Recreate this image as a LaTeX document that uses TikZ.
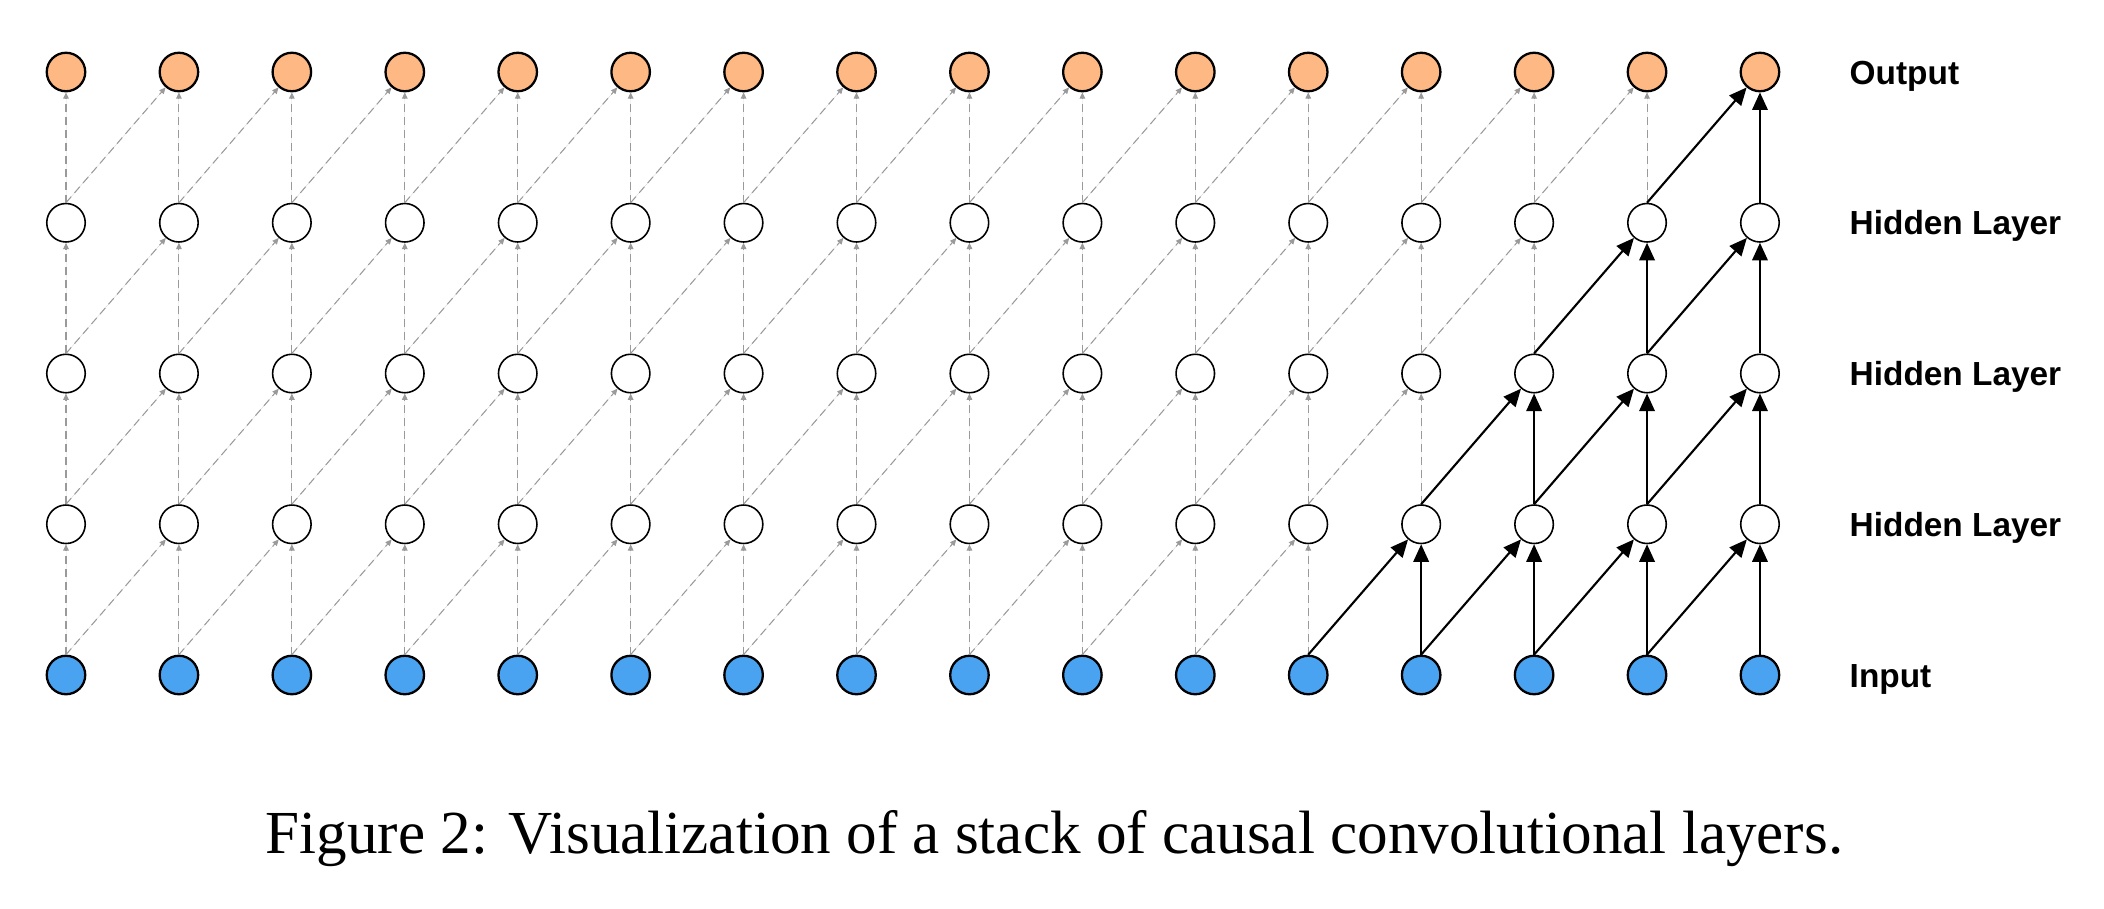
\documentclass[tikz,border=0pt]{standalone}
\usepackage{fontspec}
\setmainfont{Liberation Serif}
\newfontfamily\labelfont{Liberation Sans}
\usepackage{xcolor}
\usetikzlibrary{arrows.meta}
\definecolor{inputblue}{HTML}{4AA3F0}
\definecolor{outputorange}{HTML}{FDB883}
\definecolor{edgegray}{HTML}{9A9A9A}

\begin{document}
\begin{tikzpicture}[x=1cm,y=1cm]
    \tikzstyle{unit}=[circle,draw=black,line width=0.45pt,fill=white,minimum size=0.385cm,inner sep=0pt]
    \tikzstyle{inunit}=[unit,fill=inputblue,line width=0.65pt]
    \tikzstyle{outunit}=[unit,fill=outputorange,line width=0.65pt]
    \tikzstyle{layername}=[anchor=base west,inner sep=0pt,font=\labelfont\bfseries\fontsize{9.5}{11}\selectfont]
    \tikzstyle{faint}=[-{Triangle[length=1.8pt,width=1.6pt]},draw=edgegray,fill=edgegray,line width=0.3pt,dash pattern=on 2.3pt off 1.4pt]
    \tikzstyle{live}=[-{Triangle[length=5pt,width=4.4pt]},draw=black,line width=0.6pt]
    \useasboundingbox (0,0) rectangle (21.04,9.08);
    % units: layer 0 is the input, layer 4 the output
    \foreach \col in {1,...,16} {
      \node[inunit] (n0-\col) at ({0.66+1.1293*(\col-1)},2.33) {};
      \foreach \lay in {1,2,3}
        \node[unit] (n\lay-\col) at ({0.66+1.1293*(\col-1)},{2.33+1.5075*\lay}) {};
      \node[outunit] (n4-\col) at ({0.66+1.1293*(\col-1)},8.36) {};
    }
    % connections, solid inside the receptive field of the last output
    \foreach \lay in {0,...,3} {
      \pgfmathtruncatemacro{\up}{\lay+1}
      \pgfmathtruncatemacro{\first}{12+\up}
      \foreach \col in {1,...,16} {
        \ifnum\col<\first
          \draw[faint] (n\lay-\col.north) -- (n\up-\col);
        \else
          \draw[live] (n\lay-\col.north) -- (n\up-\col);
        \fi
      }
      \foreach \col [evaluate=\col as \nxt using int(\col+1)] in {1,...,15} {
        \ifnum\nxt<\first
          \draw[faint] (n\lay-\col.north) -- (n\up-\nxt);
        \else
          \draw[live] (n\lay-\col.north) -- (n\up-\nxt);
        \fi
      }
    }
    \node[layername] (out) at (18.49,8.24) {Output};
    \node[layername] (hid3) at (18.49,6.7325) {Hidden Layer};
    \node[layername] (hid2) at (18.49,5.225) {Hidden Layer};
    \node[layername] (hid1) at (18.49,3.7175) {Hidden Layer};
    \node[layername] (in) at (18.49,2.21) {Input};
    \node[anchor=base,inner sep=0pt,font=\fontsize{17.4}{20}\selectfont] (caption) at (10.545,0.55) {Figure 2: Visualization of a stack of causal convolutional layers.};
\end{tikzpicture}
\end{document}
